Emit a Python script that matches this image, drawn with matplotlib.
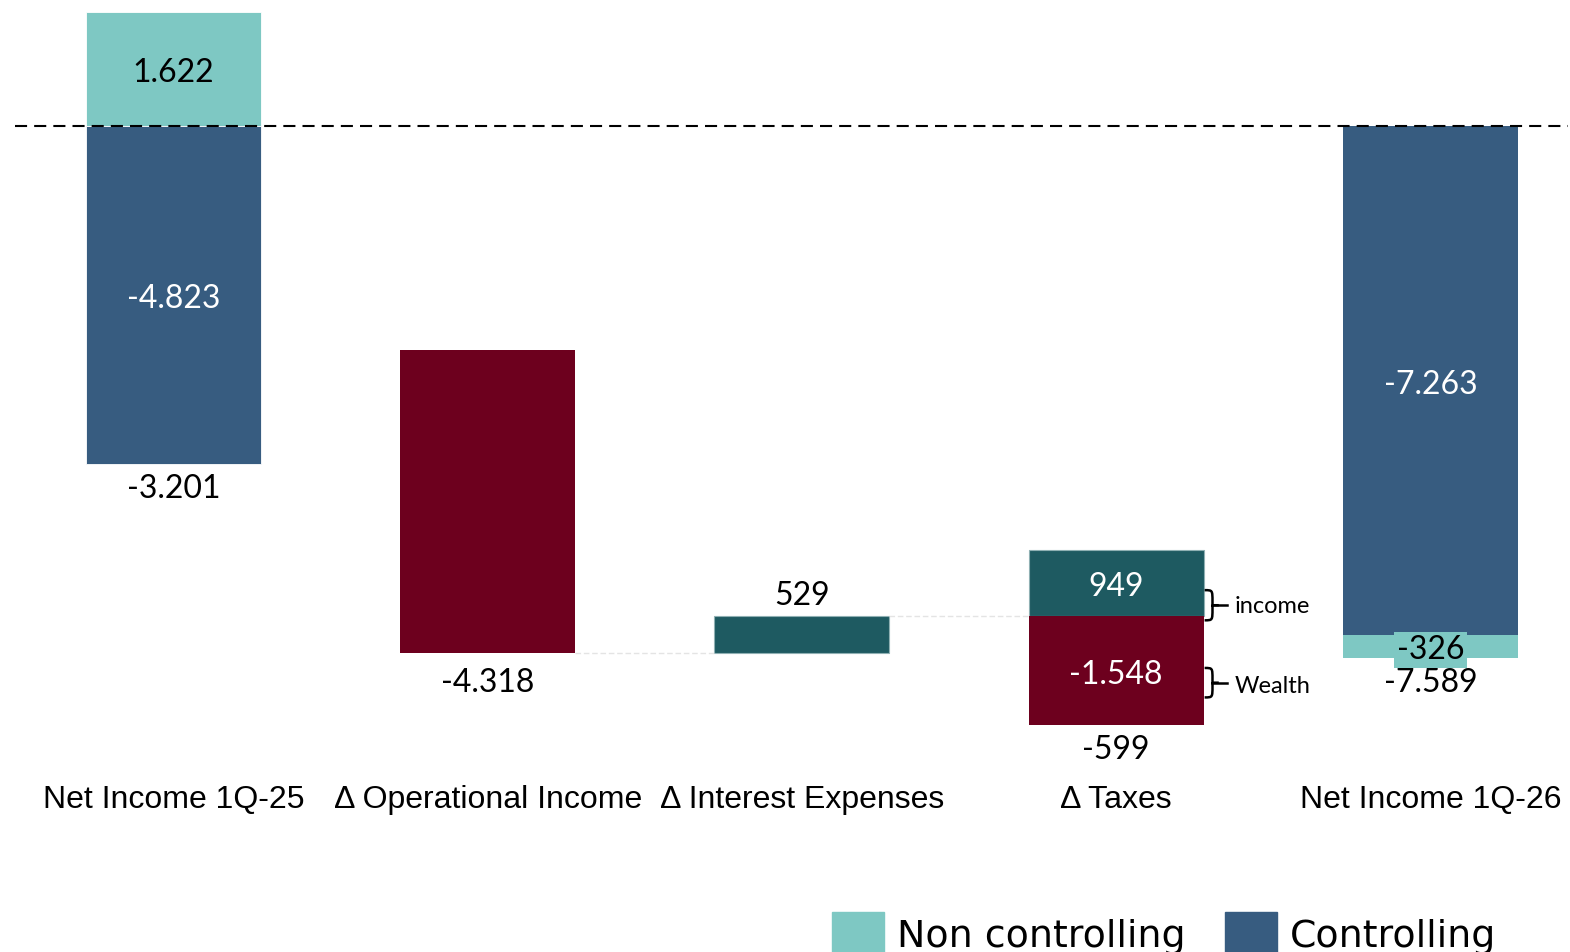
import numpy as np
import matplotlib.pyplot as plt
import matplotlib.patches as mpatches
from matplotlib.path import Path

# ── data ────────────────────────────────────────────────────────────────────
categories = ["Net Income 1Q-25", "Δ Operational Income", "Δ Interest Expenses",
              "Δ Taxes", "Net Income 1Q-26"]
start_nc = 1.622      # non controlling, 1Q-25
start_ctrl = -4.823   # controlling, 1Q-25
d_oper = -4.318
d_interest = 0.529
d_tax_income = 0.949
d_tax_wealth = -1.548
end_ctrl = -7.263
end_nc = -0.326

start_total = start_nc + start_ctrl
d_tax = d_tax_income + d_tax_wealth
level_oper = start_total + d_oper
level_int = level_oper + d_interest
end_total = end_ctrl + end_nc

C_NC = "#7EC8C3"
C_CTRL = "#375C80"
C_NEG = "#6D001E"
C_POS = "#1E5A61"

NUM_FONT = "Lato"
LAB_FONT = "Liberation Sans"

def fmt(v):
    # thousands with dot separator style of the source ("-4.823")
    return f"{v:.3f}" if abs(v) >= 1 else f"{round(v * 1000):d}"

# ── figure ──────────────────────────────────────────────────────────────────
fig = plt.figure(figsize=(15.7, 9.52), dpi=100)
ax = fig.add_axes([15 / 1570, 1 - 757 / 952, 1553 / 1570, 753.6 / 952])
ax.set_xlim(-0.5048, 4.438)
ax.set_ylim(-9.0, 1.75)
for s in ax.spines.values():
    s.set_visible(False)
ax.set_yticks([])

x = np.arange(len(categories))
w = 0.557
ekw = dict(edgecolor="white", linewidth=0.6)

# 1Q-25
ax.bar(x[0], start_nc, w, bottom=0, color=C_NC, **ekw)
ax.bar(x[0], start_ctrl, w, bottom=0, color=C_CTRL, **ekw)
# operational income
ax.bar(x[1], d_oper, w, bottom=start_total, color=C_NEG, linewidth=0)
# interest
ax.bar(x[2], d_interest, w, bottom=level_oper, color=C_POS,
       edgecolor="#8FB0B3", linewidth=0.8)
# taxes
ax.bar(x[3], d_tax_income, w, bottom=level_int, color=C_POS,
       edgecolor="#8FB0B3", linewidth=0.8)
ax.bar(x[3], d_tax_wealth, w, bottom=level_int, color=C_NEG, linewidth=0)
# 1Q-26
ax.bar(x[4], end_ctrl, w, bottom=0, color=C_CTRL, linewidth=0)
ax.bar(x[4], end_nc, w, bottom=end_ctrl, color=C_NC, linewidth=0)

# zero line
ax.axhline(0, color="black", lw=1.5, ls=(0, (5.8, 3.4)), zorder=5)

# connectors
ckw = dict(color="#E4E4E4", lw=1, ls=(0, (4, 2)), zorder=1)
ax.plot([x[1] + w / 2, x[2] - w / 2], [level_oper, level_oper], **ckw)
ax.plot([x[2] + w / 2, x[3] - w / 2], [level_int, level_int], **ckw)

# labels
dy = -0.06
nkw = dict(ha="center", va="center", fontsize=23, family=NUM_FONT)
ax.text(x[0], start_nc / 2 + dy, fmt(start_nc), color="black", **nkw)
ax.text(x[0], start_ctrl / 2 + dy, fmt(start_ctrl), color="white", **nkw)
ax.text(x[0], start_ctrl - 0.3 + dy, fmt(start_total), color="black", **nkw)
ax.text(x[1], level_oper - 0.36 + dy, fmt(d_oper), color="black", **nkw)
ax.text(x[2], level_int + 0.35 + dy, fmt(d_interest), color="black", **nkw)
ax.text(x[3], level_int + d_tax_income / 2 + dy, fmt(d_tax_income), color="white", **nkw)
ax.text(x[3], level_int + d_tax_wealth / 2 + dy, fmt(d_tax_wealth), color="white", **nkw)
ax.text(x[3], level_int + d_tax_wealth - 0.3 + dy, fmt(d_tax), color="black", **nkw)
ax.text(x[4], end_ctrl / 2 + dy, fmt(end_ctrl), color="white", **nkw)
ax.text(x[4], end_ctrl - 0.15 + dy, fmt(end_nc), color="black",
        bbox=dict(boxstyle="square,pad=0.08", fc=C_NC, ec="none"), **nkw)
ax.text(x[4], end_total - 0.3 + dy, fmt(end_total), color="black", **nkw)


# curly braces for tax split
def brace(xl, y0, y1, tip):
    ym = (y0 + y1) / 2
    xr = xl + 0.025
    verts = [(xl, y1), (xr, y1), (xr, y1), (xr, ym + 0.05),
             (xr, ym), (xr + 0.02, ym), (xr + 0.02, ym),
             (xr, ym), (xr, ym - 0.05),
             (xr, y0), (xr, y0), (xl, y0)]
    codes = [Path.MOVETO, Path.CURVE4, Path.CURVE4, Path.CURVE4,
             Path.LINETO, Path.LINETO, Path.MOVETO,
             Path.MOVETO, Path.LINETO,
             Path.CURVE4, Path.CURVE4, Path.CURVE4]
    ax.add_patch(mpatches.PathPatch(Path(verts, codes), fc="none",
                                    ec="black", lw=1.8))
    ax.plot([xr, tip], [ym, ym], color="black", lw=1.8)


bx = x[3] + w / 2 + 0.003
brace(bx, -7.05, -6.62, bx + 0.07)
brace(bx, -8.15, -7.73, bx + 0.07)
ax.text(bx + 0.095, -6.86, "income", ha="left", va="center",
        fontsize=17, family=NUM_FONT)
ax.text(bx + 0.095, -8.0, "Wealth", ha="left", va="center",
        fontsize=17, family=NUM_FONT)

# category labels
ax.set_xticks(x, categories)
ax.tick_params(axis="x", length=0, pad=20, labelsize=23)
for t in ax.get_xticklabels():
    t.set_family(LAB_FONT)

# legend
handles = [mpatches.Patch(color=C_NC, label="Non controlling"),
           mpatches.Patch(color=C_CTRL, label="Controlling")]
fig.legend(handles=handles, loc="center left", bbox_to_anchor=(817 / 1570, 1 - 934 / 952),
           ncol=2, frameon=False, prop=dict(family="DejaVu Sans", size=27.3),
           handlelength=1.37, handleheight=1.37, handletextpad=0.34,
           columnspacing=1.05, borderaxespad=0)

fig.savefig("out.png", dpi=100, facecolor="white")
